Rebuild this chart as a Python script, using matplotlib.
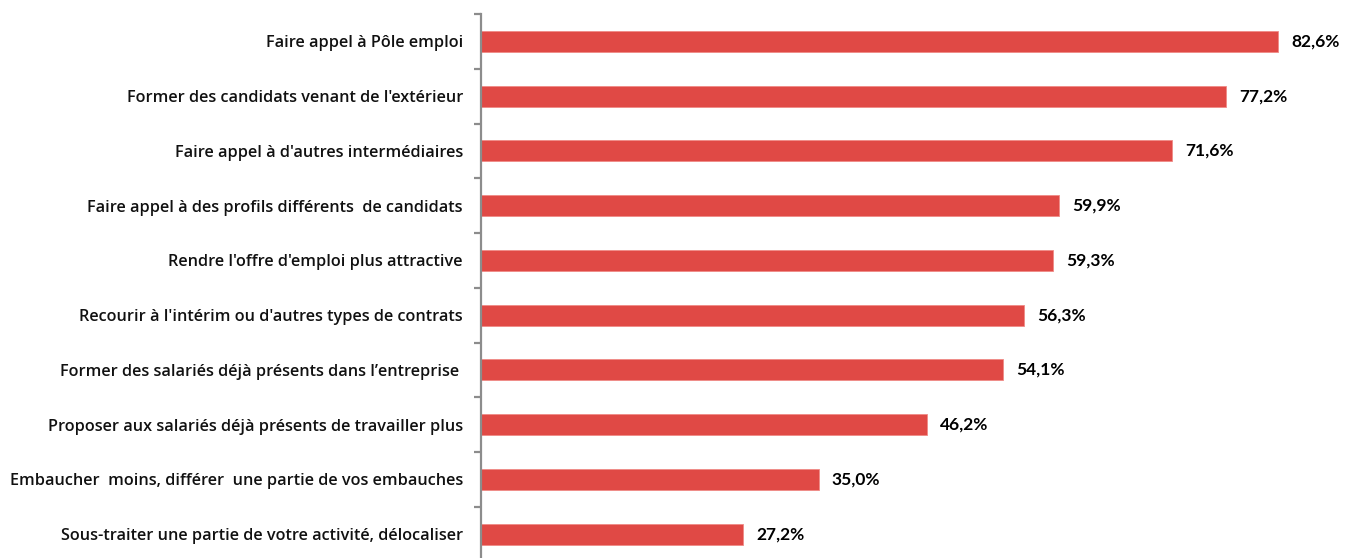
import matplotlib
matplotlib.use('Agg')
import matplotlib.pyplot as plt
import numpy as np

categories = [
    "Faire appel à Pôle emploi",
    "Former des candidats venant de l'extérieur",
    "Faire appel à d'autres intermédiaires",
    "Faire appel à des profils différents  de candidats",
    "Rendre l'offre d'emploi plus attractive",
    "Recourir à l'intérim ou d'autres types de contrats",
    "Former des salariés déjà présents dans l\u2019entreprise ",
    "Proposer aux salariés déjà présents de travailler plus",
    "Embaucher  moins, différer  une partie de vos embauches",
    "Sous-traiter une partie de votre activité, délocaliser",
]
values = [82.6, 77.2, 71.6, 59.9, 59.3, 56.3, 54.1, 46.2, 35.0, 27.2]
value_labels = ["82,6%", "77,2%", "71,6%", "59,9%", "59,3%",
                "56,3%", "54,1%", "46,2%", "35,0%", "27,2%"]

W, H = 1346, 558
fig = plt.figure(figsize=(W / 100, H / 100), dpi=100, facecolor='white')
plt.rcParams['font.family'] = ['Open Sans', 'DejaVu Sans']

left_px, top_px, bottom_px = 481, 14, 561.5
ax = fig.add_axes([left_px / W, 1 - bottom_px / H, (W - left_px) / W, (bottom_px - top_px) / H])

bar_color = '#E04945'
y = np.arange(len(categories))
ax.barh(y, values, height=0.38, color=bar_color, edgecolor='#F08A86', linewidth=0.6)

ax.set_ylim(len(categories) - 0.5, -0.5)
ax.set_xlim(0, (W - left_px) / 9.65)

for s in ['top', 'right', 'bottom']:
    ax.spines[s].set_visible(False)
ax.spines['left'].set_color('#8C8C8C')
ax.spines['left'].set_linewidth(1.6)

ax.set_xticks([])
ax.set_yticks(y)
ax.set_yticklabels(categories, fontsize=11.7, fontweight='semibold', color='#111111')
ax.tick_params(axis='y', which='major', length=0, pad=13)
ax.set_yticks(np.arange(-0.5, len(categories) + 0.5, 1), minor=True)
ax.tick_params(axis='y', which='minor', length=5, width=1.6, color='#8C8C8C', direction='out')

for yi, v, lab in zip(y, values, value_labels):
    ax.text(v + 1.35, yi, lab, va='center', ha='left', fontsize=12.5,
            fontweight='bold', family=['Lato', 'DejaVu Sans'], color='#000000')

fig.savefig('out.png', dpi=100, facecolor='white')
